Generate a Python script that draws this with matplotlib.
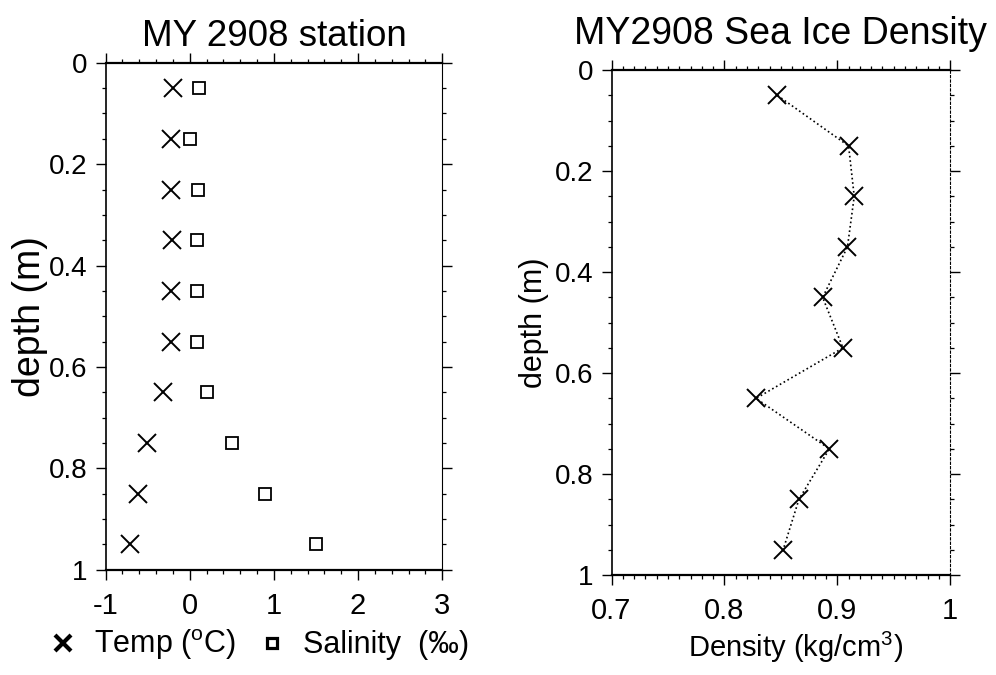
import matplotlib
matplotlib.use("Agg")
import matplotlib.pyplot as plt
from matplotlib.lines import Line2D
from matplotlib.ticker import MultipleLocator, FuncFormatter

plt.rcParams['font.family'] = ['Liberation Sans', 'DejaVu Sans']
plt.rcParams['mathtext.fontset'] = 'custom'
plt.rcParams['mathtext.rm'] = 'Liberation Sans'
plt.rcParams['mathtext.it'] = 'Liberation Sans:italic'

# station MY2908 ice core profile
depth = [0.05, 0.15, 0.25, 0.35, 0.45, 0.55, 0.65, 0.75, 0.85, 0.95]
temp = [-0.2, -0.22, -0.22, -0.21, -0.22, -0.22, -0.32, -0.51, -0.62, -0.71]
salinity = [0.11, 0.0, 0.1, 0.09, 0.09, 0.09, 0.2, 0.5, 0.9, 1.5]
density = [0.847, 0.91, 0.915, 0.909, 0.887, 0.905, 0.828, 0.893, 0.866, 0.852]

temp_ticks = [-1, 0, 1, 2, 3]
dens_ticks = [0.7, 0.8, 0.9, 1.0]
depth_ticks = [0, 0.2, 0.4, 0.6, 0.8, 1.0]

fmt = FuncFormatter(lambda v, p: '%g' % round(v, 3))


def style_axes(ax, xminor):
    ax.set_ylim(1, 0)
    ax.set_yticks(depth_ticks)
    ax.yaxis.set_minor_locator(MultipleLocator(0.05))
    ax.xaxis.set_minor_locator(MultipleLocator(xminor))
    ax.xaxis.set_major_formatter(fmt)
    ax.yaxis.set_major_formatter(fmt)
    ax.tick_params(which='both', direction='out', top=True, right=True,
                   colors='black')
    ax.tick_params(which='major', length=7, width=1.0, labelsize=20, pad=6)
    ax.tick_params(which='minor', length=3, width=0.9)
    ax.tick_params(axis='x', which='major', pad=9, labelsize=21)
    for side in ('top', 'bottom'):
        ax.spines[side].set_linewidth(1.6)
    ax.spines['left'].set_linewidth(1.2)
    ax.spines['right'].set_linewidth(0.8)


fig = plt.figure(figsize=(9.96, 6.75), dpi=100)

# temperature / salinity
ax1 = fig.add_axes([0.106, 0.156, 0.338, 0.751])
ax1.plot(temp, depth, linestyle='none', marker='x', color='black',
         markersize=13, markeredgewidth=1.4)
ax1.plot(salinity, depth, linestyle='none', marker='s', markersize=8.5,
         markerfacecolor='none', markeredgecolor='black', markeredgewidth=1.3)
ax1.set_xlim(-1, 3)
ax1.set_xticks(temp_ticks)
style_axes(ax1, 0.2)
ax1.set_ylabel('depth (m)', fontsize=27, labelpad=1)
ax1.set_title('MY 2908 station', fontsize=26.5, pad=12)

handles = [Line2D([], [], linestyle='none', marker='x', color='black',
                  markersize=12, markeredgewidth=3),
           Line2D([], [], linestyle='none', marker='s', markersize=6.5,
                  markerfacecolor='white', markeredgecolor='black',
                  markeredgewidth=2.3)]
fig.legend(handles, ['Temp ($^{\\mathrm{o}}$C)', 'Salinity  (\u2030)'],
           loc='center', bbox_to_anchor=(0.261, 1 - 645 / 675), ncol=2,
           frameon=False, fontsize=22, handlelength=0.8, handletextpad=0.6,
           columnspacing=0.8, borderpad=0)

# density
ax2 = fig.add_axes([0.614, 0.148, 0.340, 0.748])
ax2.plot(density, depth, linestyle=':', linewidth=1.2, color='black',
         marker='x', markersize=13, markeredgewidth=1.4)
ax2.set_xlim(0.7, 1.0)
ax2.set_xticks(dens_ticks)
style_axes(ax2, 0.01)
ax2.spines['right'].set_linestyle((0, (2, 2)))
ax2.set_ylabel('depth (m)', fontsize=22, labelpad=4)
ax2.set_xlabel('Density (kg/cm$^3$)', fontsize=21)
ax2.xaxis.set_label_coords(0.543, -0.108)
ax2.set_title('MY2908 Sea Ice Density', fontsize=27, pad=19)

fig.savefig('out.png', dpi=100)
